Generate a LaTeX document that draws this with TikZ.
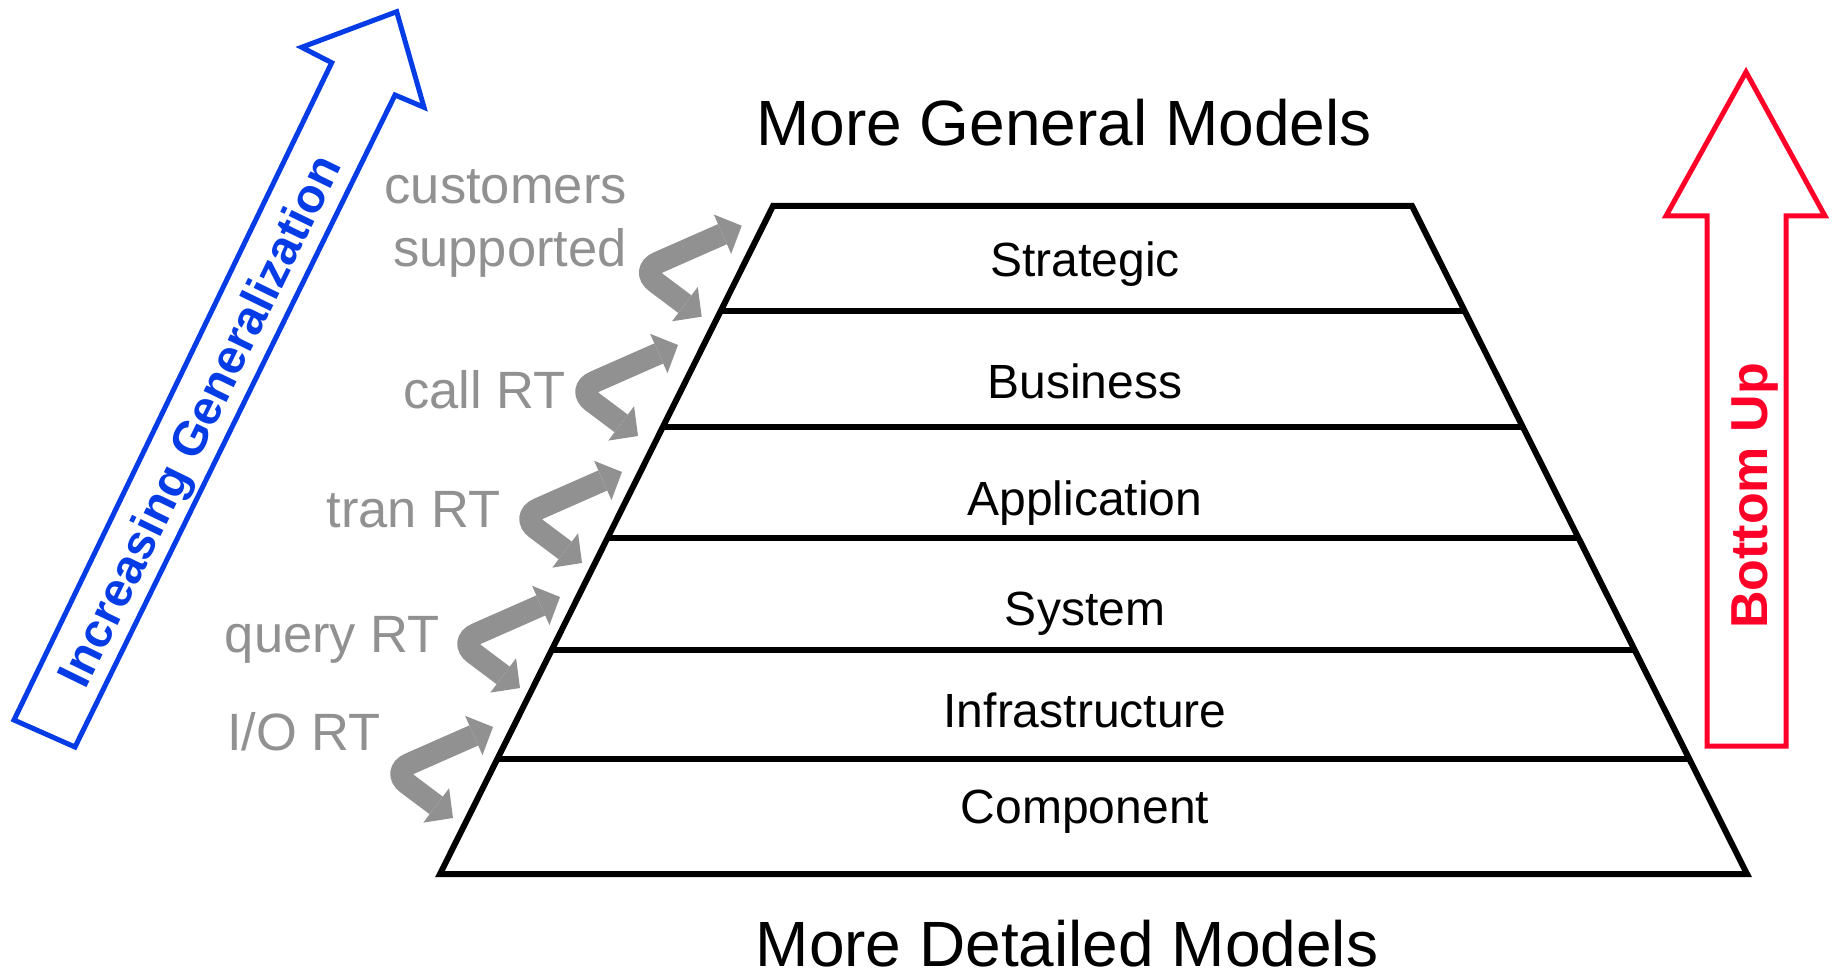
\documentclass[tikz,border=0pt]{standalone}
\usepackage{fontspec}
\setmainfont{Liberation Sans}
\usetikzlibrary{arrows.meta,calc}
\definecolor{pblue}{RGB}{5,60,230}
\definecolor{pred}{RGB}{255,0,40}
\definecolor{pgray}{RGB}{145,145,145}
\begin{document}
\begin{tikzpicture}[x=1pt,y=-1pt,
  layerline/.style={line width=6pt, line join=miter},
  layerlabel/.style={font=\fontsize{48}{56}\selectfont, anchor=base, inner sep=0pt},
  titlelabel/.style={font=\fontsize{64}{76}\selectfont, anchor=base, inner sep=0pt},
  graylabel/.style={font=\fontsize{52.5}{60}\selectfont, text=pgray, anchor=base east, inner sep=0pt},
  curlyarrow/.style={draw=pgray, line width=22pt, rounded corners=20pt,
    {Triangle[length=21pt,width=43pt,line width=0pt]}-{Triangle[length=21pt,width=43pt,line width=0pt]}},
  bigarrow/.style={line width=5pt, line join=miter, fill=white},
]
\useasboundingbox (0,0) rectangle (1833,973);

% blue arrow
\draw[bigarrow, draw=pblue] (14,720) -- (331.7,62.7) -- (301.7,47.3) -- (396.7,11.7)
  -- (424,107.3) -- (395,95) -- (75,747) -- cycle;
\node[font=\bfseries\fontsize{48}{56}\selectfont, text=pblue, rotate=64, anchor=base, inner sep=0pt]
  (incgen) at (214,428) {Increasing Generalization};

% red arrow
\draw[bigarrow, draw=pred] (1746,72) -- (1825,216) -- (1786,216) -- (1786,746)
  -- (1707,746) -- (1707,216) -- (1666,216) -- cycle;
\node[font=\bfseries\fontsize{52}{60}\selectfont, text=pred, rotate=90, anchor=base, inner sep=0pt]
  (bottomup) at (1767,496) {Bottom Up};

% pyramid
\coordinate (TL) at (773,206);
\coordinate (TR) at (1412,206);
\coordinate (BL) at (440,874);
\coordinate (BR) at (1747,874);
\draw[layerline] (TL) -- (TR) -- (BR) -- (BL) -- cycle;
\foreach \t in {0.1572,0.3308,0.4970,0.6647,0.8278}
  \draw[layerline] ($(TL)!\t!(BL)$) -- ($(TR)!\t!(BR)$);

\node[layerlabel] (strategic) at (1085,277) {Strategic};
\node[layerlabel] (business) at (1085,398) {Business};
\node[layerlabel] (application) at (1085,515) {Application};
\node[layerlabel] (system) at (1085,625) {System};
\node[layerlabel] (infra) at (1085,727) {Infrastructure};
\node[layerlabel] (component) at (1085,823) {Component};

\node[titlelabel] (general) at (1064,146) {More General Models};
\node[titlelabel] (detailed) at (1067,966) {More Detailed Models};

% gray labels
\node[graylabel] (cust1) at (627,204) {customers};
\node[graylabel] (cust2) at (627,267) {supported};
\node[graylabel] (callrt) at (566,408) {call RT};
\node[graylabel] (tranrt) at (501,527) {tran RT};
\node[graylabel] (queryrt) at (440,652) {query RT};
\node[graylabel] (iort) at (381,750) {I/O RT};

% curly arrows
\foreach \ux/\uy [count=\i] in {741.7/225.7, 678/345, 622/472, 560/597, 493/727} {
  \coordinate (u\i) at (\ux,\uy);
  \coordinate (v\i) at (\ux-101.7,\uy+44.8);
  \coordinate (l\i) at (\ux-40,\uy+91);
  \draw[curlyarrow] (u\i) -- (v\i) -- (l\i);
}
\end{tikzpicture}
\end{document}
